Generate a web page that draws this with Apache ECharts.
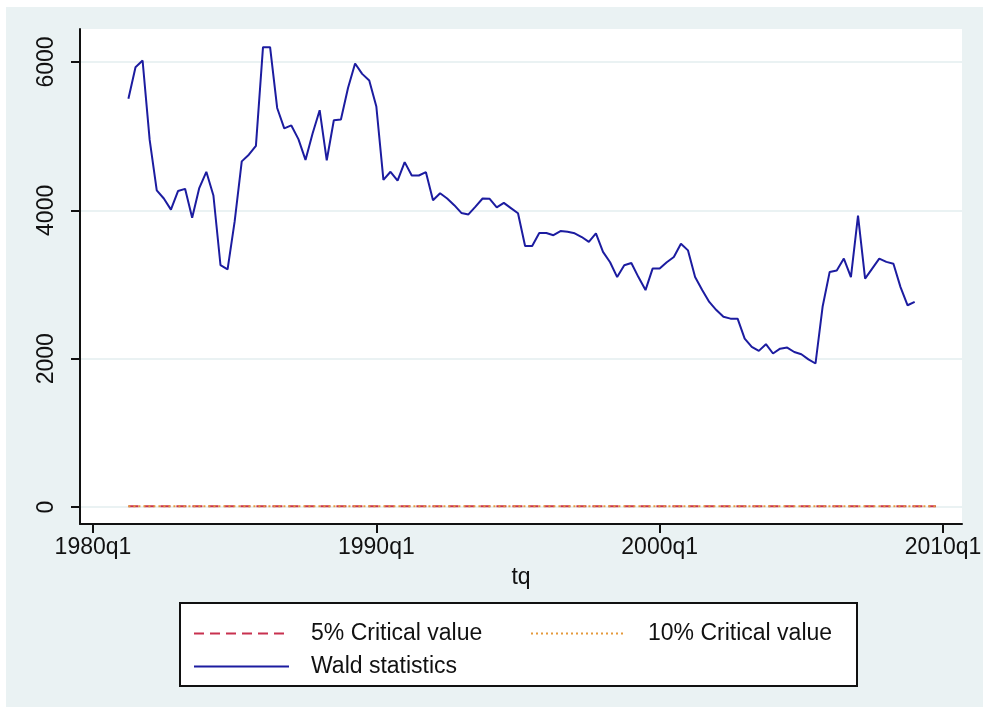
<!DOCTYPE html>
<html>
<head>
<meta charset="utf-8">
<title>Wald statistics</title>
<script src="https://cdn.jsdelivr.net/npm/echarts@6/dist/echarts.min.js"></script>
<style>
  html, body { margin: 0; padding: 0; background: #fff; }
  #chart { width: 986px; height: 713px; }
</style>
</head>
<body>
<div id="chart"></div>
<script>
// quarterly data, first observation 1981q2
const waldStart = '1981q2'
const wald = [
  5505, 5930, 6020, 4950, 4270, 4160, 4010, 4260, 4290, 3900, 4300, 4520,
  4200, 3260, 3205, 3850, 4660, 4750, 4870, 6200, 6200, 5380, 5105, 5145,
  4960, 4680, 5035, 5350, 4675, 5215, 5225, 5650, 5980, 5840, 5750, 5400,
  4410, 4520, 4400, 4650, 4470, 4470, 4515, 4135, 4230, 4160, 4070, 3965,
  3945, 4050, 4160, 4155, 4040, 4100, 4030, 3960, 3520, 3520, 3695, 3695,
  3665, 3720, 3710, 3690, 3640, 3575, 3690, 3440, 3300, 3100, 3260, 3290,
  3100, 2925, 3215, 3215, 3300, 3370, 3550, 3460, 3100, 2925, 2765, 2655,
  2565, 2540, 2540, 2270, 2160, 2105, 2195, 2070, 2135, 2150, 2090, 2060,
  1990, 1935, 2700, 3170, 3190, 3350, 3100, 3930, 3080, 3215, 3350, 3305,
  3280, 2965, 2720, 2765
]
// critical values are flat lines over the sample
const critPeriod = ['1981q2', '2009q4']
const crit5 = [11.07, 11.07]
const crit10 = [9.24, 9.24]

const xTicks = ['1980q1', '1990q1', '2000q1', '2010q1']
const yTicks = [0, 2000, 4000, 6000]

function quarterIndex (lbl) {
  const parts = lbl.split('q')
  return (Number(parts[0]) - 1980) * 4 + Number(parts[1]) - 1
}
function quarterLabel (i) {
  return (1980 + Math.floor(i / 4)) + 'q' + (i % 4 + 1)
}

const font = 'Liberation Sans'
const s0 = quarterIndex(waldStart)
const waldData = wald.map((v, k) => [s0 + k, v])
const crit5Data = critPeriod.map((q, k) => [quarterIndex(q), crit5[k]])
const crit10Data = critPeriod.map((q, k) => [quarterIndex(q), crit10[k]])

const legendText = {
  fontFamily: font,
  fontSize: 23,
  color: '#111',
  padding: [0, 0, 0, 17]
}
function legendAt (name, left, top) {
  return {
    data: [name],
    left: left,
    top: top,
    itemWidth: 95,
    itemHeight: 14,
    itemStyle: { opacity: 0 },
    textStyle: legendText
  }
}

const chart = echarts.init(document.getElementById('chart'), null, { renderer: 'canvas' })
chart.setOption({
  animation: false,
  backgroundColor: '#fff',
  graphic: [
    {
      type: 'rect',
      z: -10,
      shape: { x: 6, y: 7, width: 977, height: 700 },
      style: { fill: '#eaf2f3' }
    },
    {
      type: 'rect',
      z: 0,
      shape: { x: 180, y: 603, width: 677, height: 83 },
      style: { fill: '#fff', stroke: '#111', lineWidth: 2 }
    }
  ],
  grid: {
    left: 80,
    right: 24,
    top: 29,
    bottom: 189,
    show: true,
    backgroundColor: '#fff',
    borderWidth: 0,
    containLabel: false
  },
  xAxis: {
    type: 'value',
    min: -1.835,
    max: 122.68,
    name: 'tq',
    nameLocation: 'middle',
    nameGap: 42,
    nameTextStyle: { fontFamily: font, fontSize: 23, color: '#111' },
    axisLine: { show: true, onZero: false, lineStyle: { color: '#111', width: 2 } },
    axisTick: {
      show: true,
      length: 9,
      customValues: xTicks.map(quarterIndex),
      lineStyle: { color: '#111', width: 2 }
    },
    axisLabel: {
      customValues: xTicks.map(quarterIndex),
      formatter: v => quarterLabel(v),
      fontFamily: font,
      fontSize: 23,
      color: '#111',
      margin: 12
    },
    splitLine: { show: false }
  },
  yAxis: {
    type: 'value',
    min: -229,
    max: 6445,
    axisLine: { show: true, onZero: false, lineStyle: { color: '#111', width: 2 } },
    axisTick: {
      show: true,
      length: 9,
      customValues: yTicks,
      lineStyle: { color: '#111', width: 2 }
    },
    axisLabel: {
      customValues: yTicks,
      formatter: v => String(v),
      rotate: 90,
      fontFamily: font,
      fontSize: 23,
      color: '#111',
      margin: 22
    },
    splitLine: { show: true, lineStyle: { color: '#eaf2f3', width: 2 } }
  },
  legend: [
    legendAt('5% Critical value', 188, 617),
    legendAt('10% Critical value', 525, 617),
    legendAt('Wald statistics', 188, 650)
  ],
  series: [
    {
      name: '5% Critical value',
      type: 'line',
      data: crit5Data,
      symbol: 'none',
      z: 2,
      lineStyle: { color: '#c8314f', width: 2, type: [10, 6] },
      itemStyle: { color: '#c8314f' }
    },
    {
      name: '10% Critical value',
      type: 'line',
      data: crit10Data,
      symbol: 'none',
      z: 3,
      lineStyle: { color: '#e59a3c', width: 2, type: [2, 3] },
      itemStyle: { color: '#e59a3c' }
    },
    {
      name: 'Wald statistics',
      type: 'line',
      data: waldData,
      symbol: 'none',
      z: 4,
      lineStyle: { color: '#1c1ca0', width: 2 },
      itemStyle: { color: '#1c1ca0' }
    }
  ]
})
</script>
</body>
</html>
